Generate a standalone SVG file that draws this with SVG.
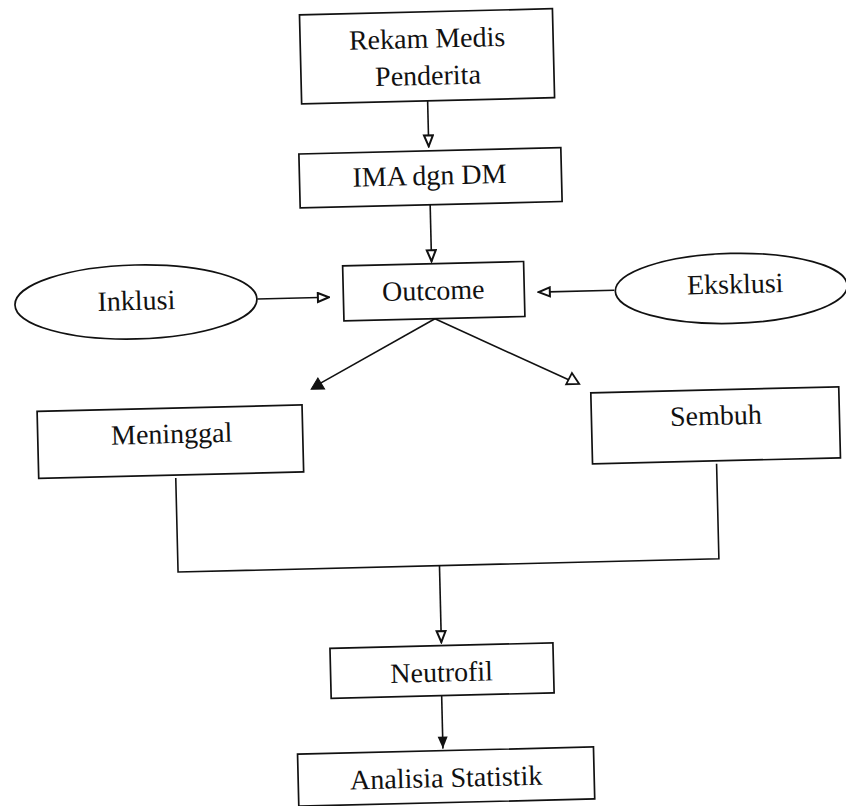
<svg xmlns="http://www.w3.org/2000/svg" width="846" height="806" viewBox="0 0 846 806">
<style>
.box{fill:#fff;stroke:#111;stroke-width:1.7}
.lbl{font-family:"Liberation Serif","Times New Roman",serif;font-size:28px;fill:#111;text-anchor:middle}
.con{fill:none;stroke:#111;stroke-width:1.6}
</style>
<defs>
<marker id="open" viewBox="0 0 14 12" refX="13" refY="6" markerWidth="14" markerHeight="12" markerUnits="userSpaceOnUse" orient="auto">
<path d="M1.5,1.5 L12.5,6 L1.5,10.5 Z" fill="#fff" stroke="#111" stroke-width="2"/>
</marker>
<marker id="filled" viewBox="0 0 14 12" refX="13" refY="6" markerWidth="14" markerHeight="12" markerUnits="userSpaceOnUse" orient="auto">
<path d="M1,1 L13,6 L1,11 Z" fill="#111"/>
</marker>
</defs>
<rect width="846" height="806" fill="#fff"/>
<g transform="rotate(-1.4 423 403)">
<g id="connectors">
<path class="con" d="M435,101 L435,147" marker-end="url(#open)"/>
<path class="con" d="M435,205 L435,262" marker-end="url(#open)"/>
<path class="con" d="M260,295 L332,295" marker-end="url(#open)"/>
<path class="con" d="M617,295 L541,295" marker-end="url(#open)"/>
<path class="con" d="M437,319 L317.5,382.5"/>
<path class="con" d="M437,319 L573.5,385.5"/>
<polygon points="318.5,375.5 311.5,386.5 325,386.5" fill="#111" stroke="#111" stroke-width="1"/>
<polygon points="572.6,376.7 566.6,387.7 579.6,387.7" fill="#fff" stroke="#111" stroke-width="1.8"/>
<path class="con" d="M174,472 L174,566 L715,566 L715,471"/>
<path class="con" d="M435.5,566 L435.5,643" marker-end="url(#open)"/>
<path class="con" d="M434.5,696 L434.5,749" marker-end="url(#filled)"/>
</g>
<g id="rekam">
<rect class="box" x="309" y="12" width="253" height="89"/>
<text class="lbl" x="436" y="48">Rekam Medis</text>
<text class="lbl" x="436" y="85">Penderita</text>
</g>
<g id="ima">
<rect class="box" x="305" y="151" width="262" height="54"/>
<text class="lbl" x="435" y="185">IMA dgn DM</text>
</g>
<g id="outcome">
<rect class="box" x="346" y="264" width="181" height="55"/>
<text class="lbl" x="436" y="300">Outcome</text>
</g>
<g id="inklusi">
<ellipse class="box" cx="138.5" cy="295" rx="121" ry="37"/>
<text class="lbl" x="139" y="303">Inklusi</text>
</g>
<g id="eksklusi">
<ellipse class="box" cx="734" cy="296" rx="116" ry="35"/>
<text class="lbl" x="738" y="301">Eksklusi</text>
</g>
<g id="meninggal">
<rect class="box" x="37" y="402" width="265" height="67"/>
<text class="lbl" x="171" y="437">Meninggal</text>
</g>
<g id="sembuh">
<rect class="box" x="591" y="397" width="248" height="71"/>
<text class="lbl" x="715.5" y="432">Sembuh</text>
</g>
<g id="neutrofil">
<rect class="box" x="324" y="646" width="223" height="50"/>
<text class="lbl" x="435" y="682">Neutrofil</text>
</g>
<g id="analisia">
<rect class="box" x="289" y="751" width="296" height="52"/>
<text class="lbl" x="437" y="787.5">Analisia Statistik</text>
</g>
</g>
</svg>
